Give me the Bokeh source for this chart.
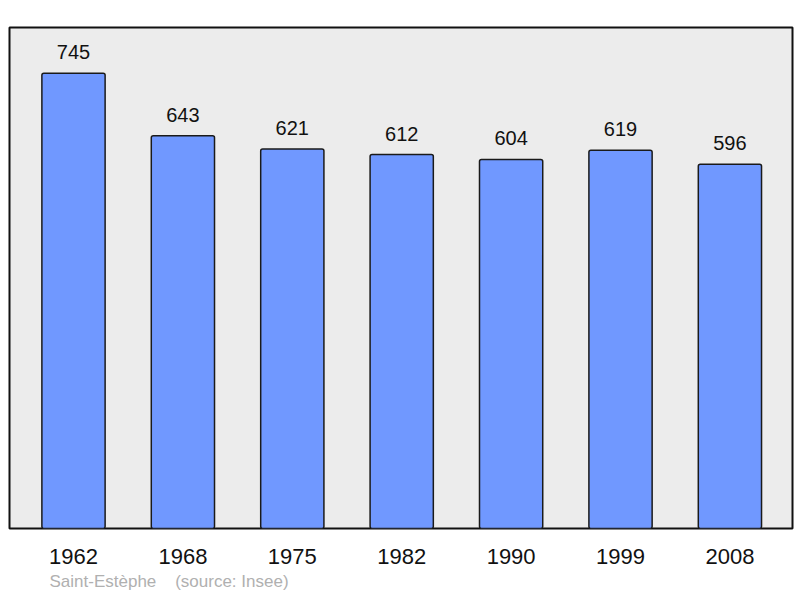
from bokeh.core.properties import value
from bokeh.embed import file_html
from bokeh.models import ColumnDataSource, FixedTicker, Range1d, Title
from bokeh.plotting import figure
from bokeh.resources import INLINE

years = ["1962", "1968", "1975", "1982", "1990", "1999", "2008"]
population = [745, 643, 621, 612, 604, 619, 596]
town = "Saint-Estèphe"
source_note = "(source: Insee)"

FONT = "Liberation Sans"

positions = list(range(len(years)))
source = ColumnDataSource(
    data=dict(x=positions, pop=population, label=[str(v) for v in population])
)

p = figure(
    width=800,
    height=598,
    x_range=Range1d(-0.585, 6.572),
    y_range=Range1d(0, 820),
    output_backend="svg",
    toolbar_location=None,
    min_border_left=9,
    min_border_right=8,
    min_border_top=27,
    min_border_bottom=70,
)

p.background_fill_color = "#ececec"
p.border_fill_color = "white"
p.outline_line_color = "#111111"
p.outline_line_width = 2
p.grid.visible = False
p.yaxis.visible = False

p.vbar(
    x="x",
    top="pop",
    width=0.578,
    source=source,
    fill_color="#7098ff",
    line_color="#1a1a1a",
    line_width=1.5,
    border_radius=2,
)

p.text(
    x="x",
    y="pop",
    text="label",
    source=source,
    y_offset=-21,
    text_align="center",
    text_baseline="alphabetic",
    text_font=value(FONT),
    text_font_size="20px",
    text_color="#111111",
)

xaxis = p.xaxis[0]
xaxis.ticker = FixedTicker(ticks=positions)
xaxis.major_label_overrides = {i: y for i, y in enumerate(years)}
xaxis.axis_line_color = None
xaxis.major_tick_line_color = None
xaxis.minor_tick_line_color = None
xaxis.major_label_standoff = 14
xaxis.major_label_text_font = FONT
xaxis.major_label_text_font_size = "22px"
xaxis.major_label_text_color = "#111111"

# footer: town name and data source, in light grey under the years
footer = Title(
    text=town + "\u00a0\u00a0\u00a0 " + source_note,
    align="left",
    offset=40,
    standoff=7,
    text_font=FONT,
    text_font_size="17px",
    text_font_style="normal",
    text_color="#b0b0b0",
)
p.add_layout(footer, "below")

open("out.html", "w").write(file_html(p, INLINE))
